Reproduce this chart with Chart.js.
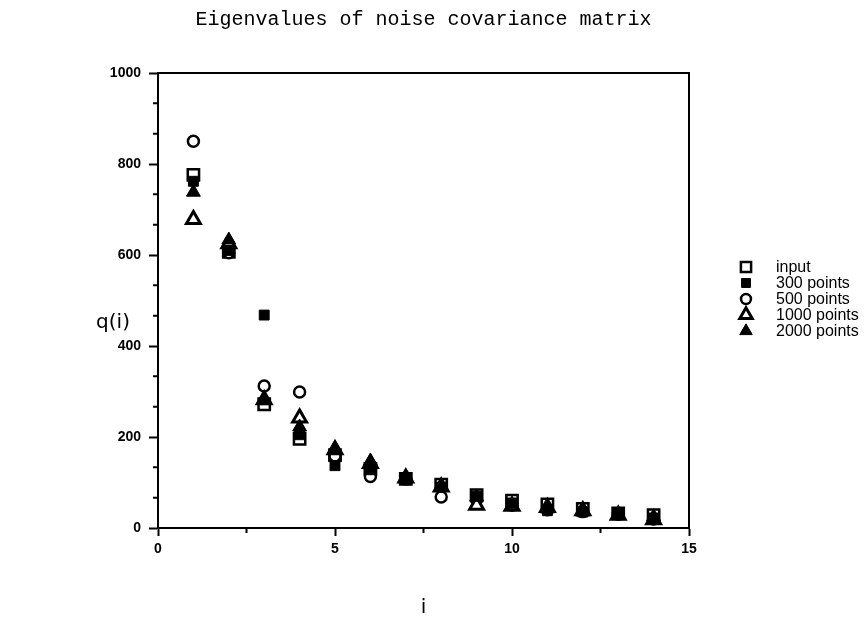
<!DOCTYPE html>
<html>
<head>
<meta charset="utf-8">
<script src="https://cdn.jsdelivr.net/npm/chart.js@4.4.0/dist/chart.umd.min.js"></script>
<style>
  body { margin: 0; background: #fff; }
  #wrap { width: 866px; height: 621px; }
</style>
</head>
<body>
<div id="wrap"><canvas id="myChart"></canvas></div>
<script>
// eigenvalue index
var index = [1, 2, 3, 4, 5, 6, 7, 8, 9, 10, 11, 12, 13, 14];
// q(i) for each run
var input   = [776, 607, 272, 196, 160, 130, 108, 95, 72, 60, 52, 42, 32, 28];
var pts300  = [762, 610, 468, 205, 137, 128, 106, 90, 70, 55, 38, 35, 30, 22];
var pts500  = [850, 605, 312, 299, 158, 113, 108, 68, 62, 50, 40, 36, 30, 20];
var pts1000 = [678, 625, 282, 242, 172, 142, 110, 90, 50, 48, 45, 38, 28, 18];
var pts2000 = [738, 633, 280, 222, 175, 147, 110, 92, 68, 52, 42, 35, 30, 25];
var seriesNames = ['input', '300 points', '500 points', '1000 points', '2000 points'];

// minor tick marks (no labels)
var xMinorTicks = [2.5, 7.5, 12.5];
var yMinorTicks = [66.67, 133.33, 266.67, 333.33, 466.67, 533.33, 666.67, 733.33, 866.67, 933.33];

function toPoints(vals) {
    return vals.map(function (v, k) { return { x: index[k], y: v }; });
}

// order: lower = drawn on top, so filled marks sit over the open ones
var styles = [
    { pointStyle: 'rect',     radius: 8,   fill: '#fff', border: 2.5, order: 4 },
    { pointStyle: 'rect',     radius: 7,   fill: '#000', border: 1,   order: 1 },
    { pointStyle: 'circle',   radius: 5.5, fill: '#fff', border: 2.5, order: 3 },
    { pointStyle: 'triangle', radius: 8,   fill: '#fff', border: 3,   order: 2 },
    { pointStyle: 'triangle', radius: 8,   fill: '#000', border: 1,   order: 0 }
];
var allSeries = [input, pts300, pts500, pts1000, pts2000];

var datasets = allSeries.map(function (vals, k) {
    var s = styles[k];
    return {
        label: seriesNames[k],
        data: toPoints(vals),
        order: s.order,
        pointStyle: s.pointStyle,
        pointRadius: s.radius,
        pointHoverRadius: s.radius,
        pointBackgroundColor: s.fill,
        pointBorderColor: '#000',
        pointBorderWidth: s.border,
        showLine: false
    };
});

// frame, minor ticks, horizontal y label and the legend
var extras = {
    id: 'extras',
    afterDraw: function (chart) {
        var ctx = chart.ctx;
        var a = chart.chartArea;
        var xs = chart.scales.x, ys = chart.scales.y;
        ctx.save();
        ctx.strokeStyle = '#000';
        ctx.lineWidth = 2;
        ctx.strokeRect(a.left, a.top, a.right - a.left, a.bottom - a.top);
        ctx.beginPath();
        xMinorTicks.forEach(function (v) {
            var px = xs.getPixelForValue(v);
            ctx.moveTo(px, a.bottom);
            ctx.lineTo(px, a.bottom + 5);
        });
        yMinorTicks.forEach(function (v) {
            var py = ys.getPixelForValue(v);
            ctx.moveTo(a.left - 5, py);
            ctx.lineTo(a.left, py);
        });
        ctx.stroke();

        // y label, not rotated
        ctx.fillStyle = '#000';
        ctx.font = '20px "DejaVu Sans"';
        ctx.textAlign = 'center';
        ctx.textBaseline = 'middle';
        ctx.fillText('q(i)', 113, (a.top + a.bottom) / 2 + 22);

        // legend
        ctx.font = '16px "Liberation Sans", Arial';
        ctx.textAlign = 'left';
        var lx = a.right + 57, ly = 267;
        chart.data.datasets.forEach(function (ds, k) {
            var y = ly + k * 16;
            ctx.fillStyle = ds.pointBackgroundColor;
            ctx.strokeStyle = '#000';
            ctx.lineWidth = ds.pointBorderWidth;
            Chart.helpers.drawPoint(ctx, {
                pointStyle: ds.pointStyle,
                radius: ds.pointRadius * 0.9,
                borderWidth: ds.pointBorderWidth,
                rotation: 0
            }, lx, y);
            ctx.fillStyle = '#000';
            ctx.fillText(ds.label, lx + 30, y + 1);
        });
        ctx.restore();
    }
};

var tickFont = { family: '"Liberation Sans", Arial', size: 14, weight: 'bold' };

new Chart(document.getElementById('myChart').getContext('2d'), {
    type: 'scatter',
    data: { datasets: datasets },
    options: {
        responsive: true,
        maintainAspectRatio: false,
        animation: false,
        layout: { padding: { left: 100, right: 177, top: 0, bottom: 0 } },
        plugins: {
            legend: { display: false },
            tooltip: { enabled: false },
            title: {
                display: true,
                fullSize: false,
                text: 'Eigenvalues of noise covariance matrix',
                color: '#000',
                font: { family: '"Liberation Mono", monospace', size: 20, weight: 'normal' },
                padding: { top: 8, bottom: 41 }
            }
        },
        scales: {
            x: {
                type: 'linear',
                min: 0,
                max: 15,
                ticks: { stepSize: 5, color: '#000', font: tickFont, padding: 5, maxRotation: 0 },
                grid: { drawOnChartArea: false, tickLength: 8, tickWidth: 2, tickColor: '#000' },
                border: { color: '#000', width: 2 },
                title: { display: true, text: 'i', color: '#000', font: { family: '"DejaVu Sans"', size: 20 }, padding: { top: 0, bottom: 1 } },
                afterFit: function (s) { s.height = 93; }
            },
            y: {
                min: 0,
                max: 1000,
                ticks: {
                    stepSize: 200, color: '#000', font: tickFont, padding: 8,
                    callback: function (v) { return String(v); }
                },
                grid: { drawOnChartArea: false, tickLength: 9, tickWidth: 2, tickColor: '#000' },
                border: { color: '#000', width: 2 },
                afterFit: function (s) { s.width = 58; }
            }
        }
    },
    plugins: [extras]
});
</script>
</body>
</html>
